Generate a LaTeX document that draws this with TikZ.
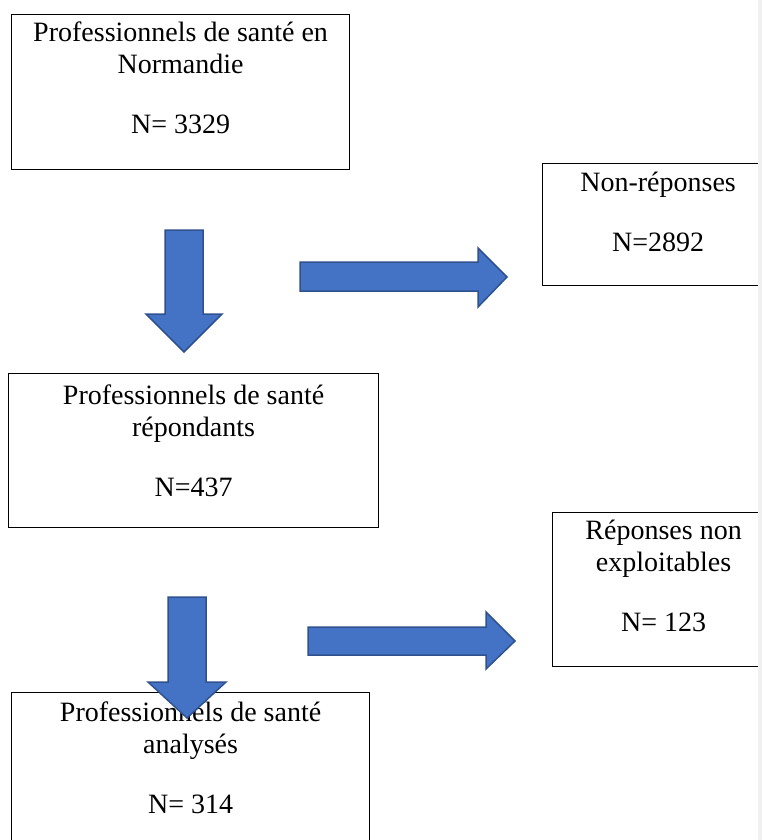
\documentclass[tikz,border=0pt]{standalone}
\usepackage{fontspec}
\setmainfont{Liberation Serif}
\usetikzlibrary{positioning}
\definecolor{arrowblue}{HTML}{4472C4}
\definecolor{arrowedge}{HTML}{2F528F}
\definecolor{margingray}{HTML}{F0F0F0}

\begin{document}
\begin{tikzpicture}[x=1pt,y=-1pt,
  box/.style={draw, line width=1.2pt, rectangle, inner sep=0pt, anchor=north west},
  boxtext/.style={anchor=north, inner sep=0pt, align=center, font=\fontsize{28}{32}\selectfont},
  bigarrow/.style={fill=arrowblue, draw=arrowedge, line width=1.5pt, line join=miter}]

\useasboundingbox (0,0) rectangle (762,840);
\clip (0,0) rectangle (762,840);

% boxes
\node[box, minimum width=338pt, minimum height=155pt] (total) at (11,14) {};
\node[box, minimum width=231pt, minimum height=122pt] (nonrep) at (542,163) {};
\node[box, minimum width=370pt, minimum height=154pt] (repond) at (8,373) {};
\node[box, minimum width=222pt, minimum height=154pt] (nonexpl) at (552,512) {};
\node[box, minimum width=358pt, minimum height=160pt] (analyse) at (11,692) {};

% texts
\node[boxtext, below=8pt of total.north] (totaltxt) {Professionnels de santé en\\Normandie\\[28pt]N= 3329};
\node[boxtext, below=9pt of nonrep.north] (nonreptxt) {Non-réponses\\[28pt]N=2892};
\node[boxtext, below=12pt of repond.north] (repondtxt) {Professionnels de santé\\répondants\\[28pt]N=437};
\node[boxtext, below=8pt of nonexpl.north] (nonexpltxt) {Réponses non\\exploitables\\[28pt]N= 123};
\node[boxtext, below=10pt of analyse.north] (analysetxt) {Professionnels de santé\\analysés\\[28pt]N= 314};

% block arrows
\draw[bigarrow] (165,230) -- (203,230) -- (203,314) -- (222,314) -- (184,352) -- (146,314) -- (165,314) -- cycle;
\draw[bigarrow] (300,262) -- (478,262) -- (478,248) -- (507,277) -- (478,307) -- (478,291) -- (300,291) -- cycle;
\draw[bigarrow] (168,597) -- (206,597) -- (206,682) -- (226,682) -- (187,718) -- (148,682) -- (168,682) -- cycle;
\draw[bigarrow] (308,627) -- (486,627) -- (486,612) -- (515,641) -- (486,669) -- (486,655) -- (308,655) -- cycle;

\fill[margingray] (758,0) rectangle (762,840);

\end{tikzpicture}
\end{document}
